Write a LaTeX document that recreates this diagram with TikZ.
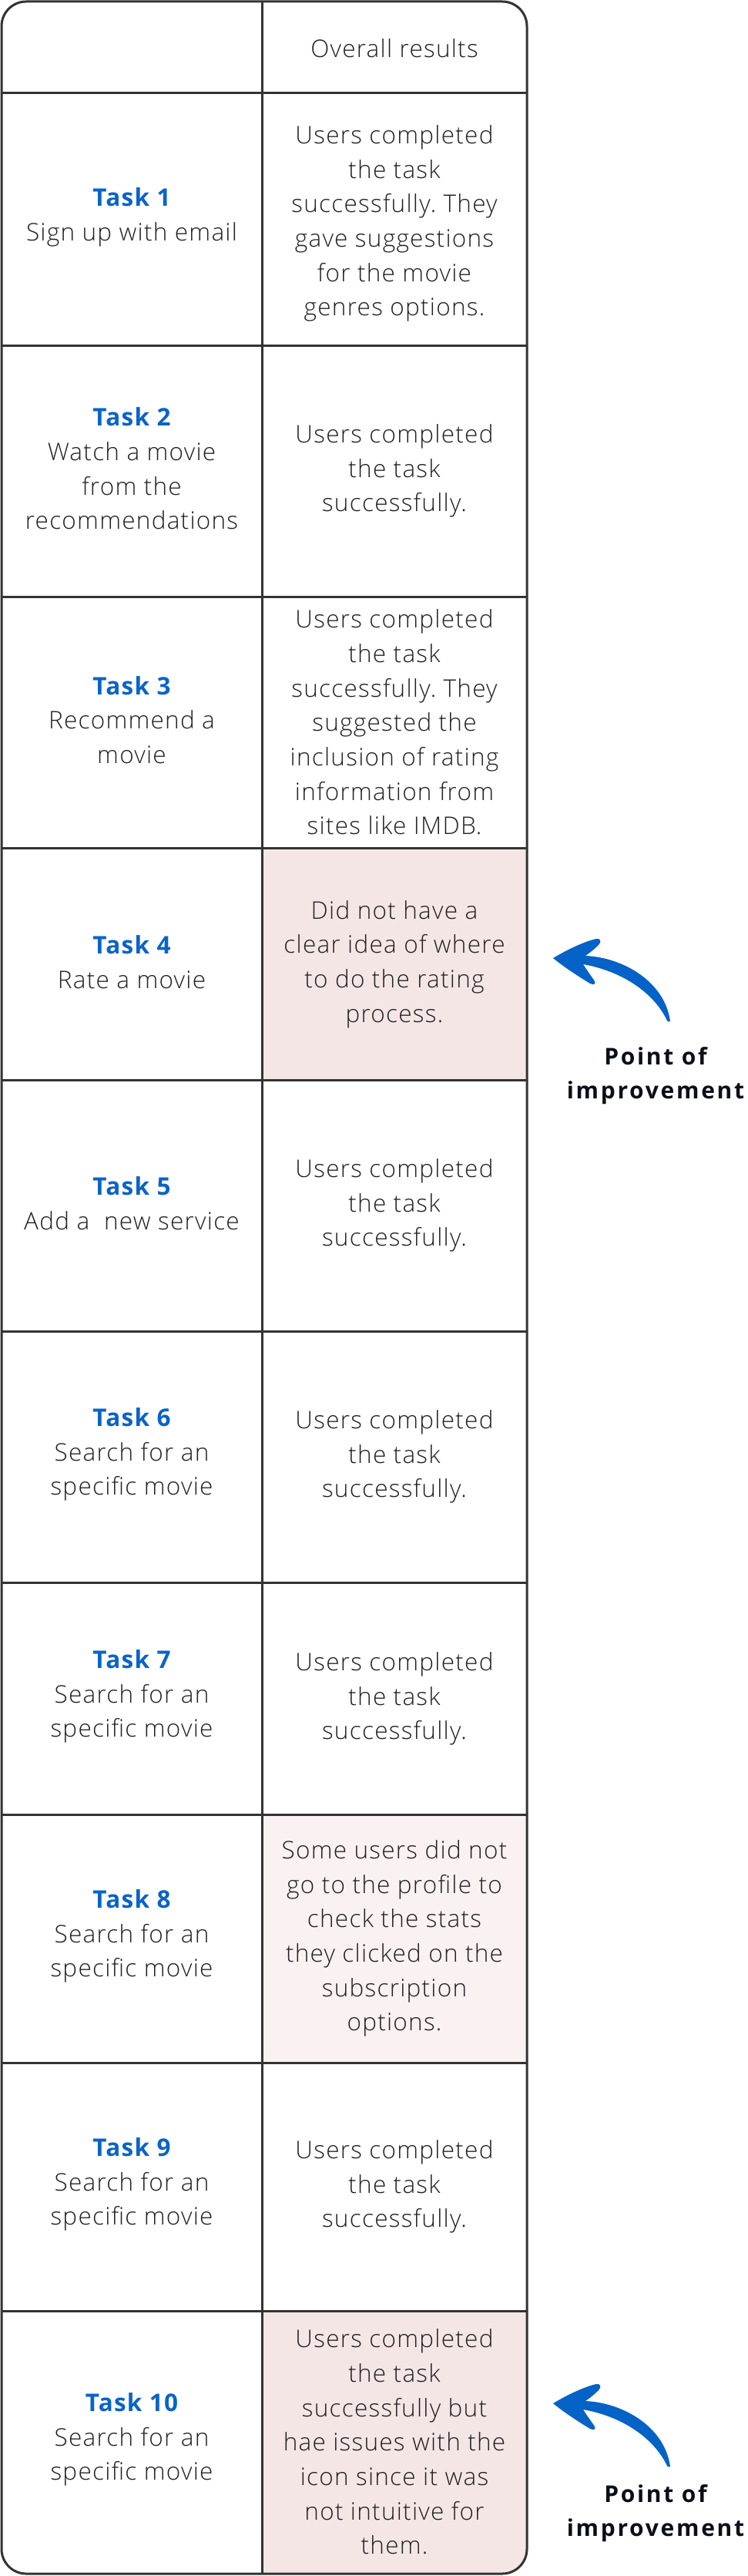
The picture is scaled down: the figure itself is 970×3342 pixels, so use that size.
\documentclass[tikz,border=0pt]{standalone}
\usepackage{fontspec}
\setmainfont{Open Sans}[UprightFont={* Light}, BoldFont={* Bold}, LetterSpace=4]
\newfontfamily\boldlbl{Open Sans}[LetterSpace=9]
\frenchspacing
\definecolor{linegray}{HTML}{333333}
\definecolor{txt}{HTML}{222222}
\definecolor{tblue}{HTML}{0A64C8}
\definecolor{ablue}{HTML}{0562C6}
\definecolor{pinkA}{HTML}{F5E6E6}
\definecolor{pinkB}{HTML}{FAF2F1}
\definecolor{lblk}{HTML}{0B0F19}
\tikzset{
  cell/.style={align=center, text=txt, font=\fontsize{31.5}{44.7}\selectfont, inner sep=0pt},
  grid/.style={draw=linegray, line width=3pt},
  ptlbl/.style={align=center, text=lblk, font=\boldlbl\bfseries\fontsize{30}{44}\selectfont, inner sep=0pt},
  bentarrow/.style={fill=ablue, draw=none}
}
\newcommand{\tsk}[1]{{\bfseries\color{tblue}Task #1}}
\newcommand{\ptarrow}[1]{%
  \fill[bentarrow, shift={#1}]
    (0,0) .. controls (20,-12) and (42,-22) .. (56,-25)
    .. controls (62,-26) and (63,-21) .. (59,-17)
    .. controls (52,-10) and (46,-6) .. (42,-3)
    .. controls (90,-1) and (145,30) .. (152,82)
    .. controls (150,84) and (148,82) .. (147,79)
    .. controls (130,45) and (90,17) .. (39,8)
    .. controls (44,16) and (50,24) .. (54,30)
    .. controls (56,34) and (52,35) .. (48,33)
    .. controls (30,22) and (12,10) .. (0,0) -- cycle;}
\begin{document}
\begin{tikzpicture}[x=1pt,y=-1pt]
\useasboundingbox (0,0) rectangle (970,3342);
\fill[white] (0,0) rectangle (970,3342);
% fills
\begin{scope}
  \clip[rounded corners=32pt] (2,2) rectangle (684,3339);
  \fill[pinkA] (340,1100) rectangle (684,1401);
  \fill[pinkB] (340,2354) rectangle (684,2676);
  \fill[pinkA] (340,2998) rectangle (684,3339);
\end{scope}
% grid
\foreach \yy in {121,448,774,1100,1401,1727,2053,2354,2676,2998}
  \draw[grid] (2,\yy) -- (684,\yy);
\draw[grid] (340,2) -- (340,3339);
\draw[grid, rounded corners=32pt] (2,2) rectangle (684,3339);
% header
\node[cell] (hdr) at (512,63) {Overall results};
% rows
\node[cell] (t1) at (171,282) {\tsk{1}\\Sign up with email};
\node[cell] (r1) at (512,290) {Users completed\\the task\\successfully. They\\gave suggestions\\for the movie\\genres options.};
\node[cell] (t2) at (171,608) {\tsk{2}\\Watch a movie\\from the\\recommendations};
\node[cell] (r2) at (512,611) {Users completed\\the task\\successfully.};
\node[cell] (t3) at (171,934) {\tsk{3}\\Recommend a\\movie};
\node[cell] (r3) at (512,937) {Users completed\\the task\\successfully. They\\suggested the\\inclusion of rating\\information from\\sites like IMDB.};
\node[cell] (t4) at (171,1248) {\tsk{4}\\Rate a movie};
\node[cell] (r4) at (512,1251) {Did not have a\\clear idea of where\\to do the rating\\process.};
\node[cell] (t5) at (171,1561) {\tsk{5}\\Add a \ new service};
\node[cell] (r5) at (512,1564) {Users completed\\the task\\successfully.};
\node[cell] (t6) at (171,1887) {\tsk{6}\\Search for an\\specific movie};
\node[cell] (r6) at (512,1890) {Users completed\\the task\\successfully.};
\node[cell] (t7) at (171,2201) {\tsk{7}\\Search for an\\specific movie};
\node[cell] (r7) at (512,2204) {Users completed\\the task\\successfully.};
\node[cell] (t8) at (171,2512) {\tsk{8}\\Search for an\\specific movie};
\node[cell] (r8) at (512,2515) {Some users did not\\go to the profile to\\check the stats\\they clicked on the\\subscription\\options.};
\node[cell] (t9) at (171,2834) {\tsk{9}\\Search for an\\specific movie};
\node[cell] (r9) at (512,2837) {Users completed\\the task\\successfully.};
\node[cell] (t10) at (171,3165) {\tsk{10}\\Search for an\\specific movie};
\node[cell] (r10) at (512,3168) {Users completed\\the task\\successfully but\\hae issues with the\\icon since it was\\not intuitive for\\them.};
% points of improvement
\ptarrow{(718,1243)}
\node[ptlbl] (p1) at (851,1396) {Point of\\improvement};
\ptarrow{(718,3118)}
\node[ptlbl] (p2) at (851,3261) {Point of\\improvement};
\end{tikzpicture}
\end{document}
